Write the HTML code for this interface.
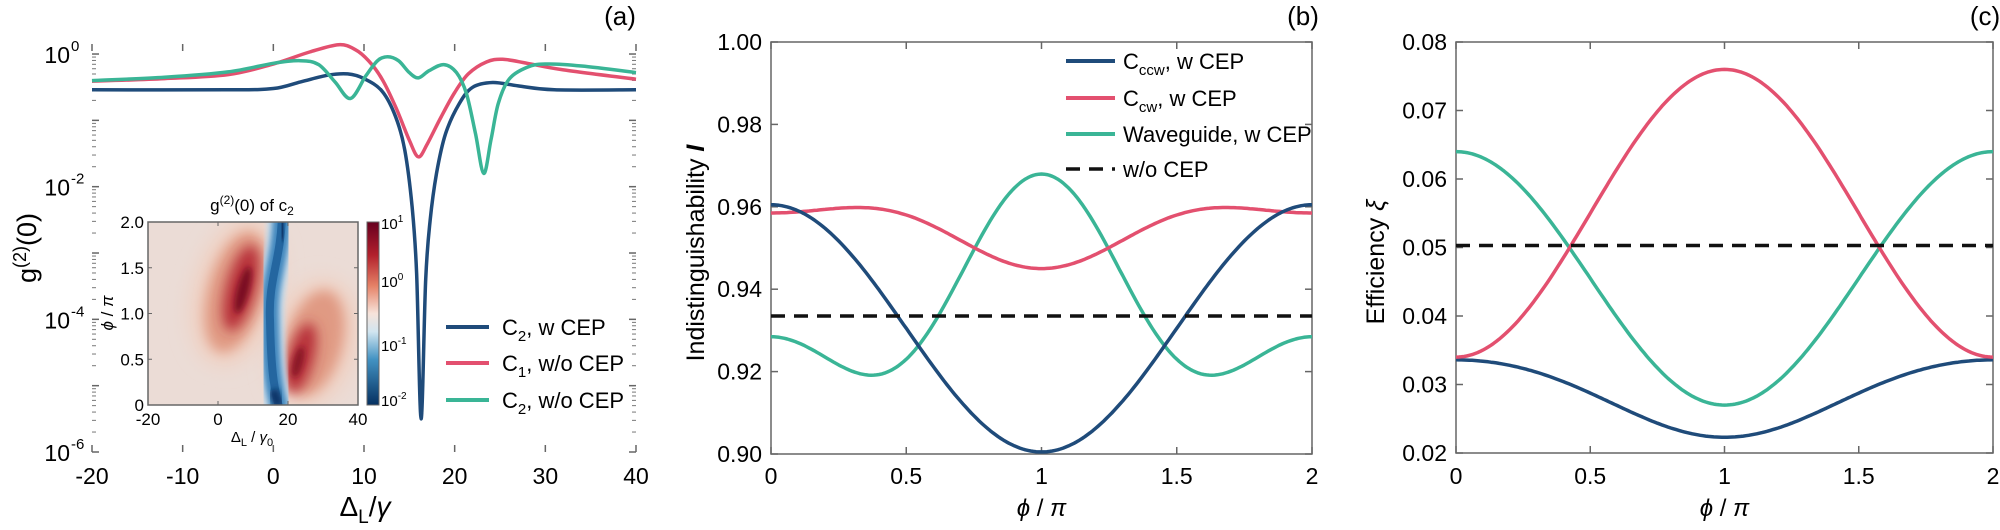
<!DOCTYPE html>
<html><head><meta charset="utf-8"><style>
html,body{margin:0;padding:0;background:#fff;}
svg{display:block;font-family:"Liberation Sans",Arial,sans-serif;}
</style></head><body>
<svg id="s" width="2000" height="530" viewBox="0 0 2000 530" xmlns="http://www.w3.org/2000/svg">
<defs>
<filter id="b6" x="-50%" y="-50%" width="200%" height="200%"><feGaussianBlur stdDeviation="6"/></filter>
<filter id="b3" x="-50%" y="-50%" width="200%" height="200%"><feGaussianBlur stdDeviation="3"/></filter>
<filter id="b10" x="-50%" y="-50%" width="200%" height="200%"><feGaussianBlur stdDeviation="10"/></filter>
<linearGradient id="cb" x1="0" y1="0" x2="0" y2="1">
<stop offset="0" stop-color="#67001f"/><stop offset="0.18" stop-color="#b2202c"/><stop offset="0.35" stop-color="#e58267"/>
<stop offset="0.5" stop-color="#f7e3da"/><stop offset="0.6" stop-color="#d1e5f0"/><stop offset="0.75" stop-color="#4393c3"/>
<stop offset="1" stop-color="#053061"/></linearGradient>
<clipPath id="ic"><rect x="148" y="222" width="210" height="183"/></clipPath>
</defs>
<g id="g"></g>
</svg>
<script>
var G=document.getElementById('g');var NS='http://www.w3.org/2000/svg';
function el(t,a,txt){var e=document.createElementNS(NS,t);for(var k in a)e.setAttribute(k,a[k]);if(txt!==undefined)e.textContent=txt;G.appendChild(e);return e;}
function html(s){G.insertAdjacentHTML('beforeend',s);}
var BL='#1f4b7a',RD='#e3506f',GR='#3ab596';
function cr(pts){var d='M'+pts[0][0].toFixed(1)+','+pts[0][1].toFixed(1);for(var i=0;i<pts.length-1;i++){var p0=pts[i-1]||pts[i],p1=pts[i],p2=pts[i+1],p3=pts[i+2]||p2;
var c1=[p1[0]+(p2[0]-p0[0])/6,p1[1]+(p2[1]-p0[1])/6],c2=[p2[0]-(p3[0]-p1[0])/6,p2[1]-(p3[1]-p1[1])/6];
d+='C'+c1[0].toFixed(1)+','+c1[1].toFixed(1)+' '+c2[0].toFixed(1)+','+c2[1].toFixed(1)+' '+p2[0].toFixed(1)+','+p2[1].toFixed(1);}return d;}
function frame(x0,x1,y0,y1){el('rect',{x:x0,y:y0,width:x1-x0,height:y1-y0,fill:'none',stroke:'#666','stroke-width':1.5});}
function tk(x0,x1,y0,y1,xs,ys){xs.forEach(function(x){el('line',{x1:x,x2:x,y1:y1,y2:y1-7,stroke:'#666','stroke-width':1.5});el('line',{x1:x,x2:x,y1:y0,y2:y0+7,stroke:'#666','stroke-width':1.5});});
ys.forEach(function(y){el('line',{x1:x0,x2:x0+7,y1:y,y2:y,stroke:'#666','stroke-width':1.5});el('line',{x1:x1,x2:x1-7,y1:y,y2:y,stroke:'#666','stroke-width':1.5});});}
// ---------- Panel a ----------
var ax0=92,ax1=636,ay0=44,ay1=452;
function AX(d){return ax0+(d+20)/60*(ax1-ax0);} function AY(l){return 452-(l+6)*66.33;}
for(var dec=-6;dec<0;dec++){for(var m=2;m<10;m++){var y=AY(dec+Math.log10(m));el('line',{x1:ax0,x2:ax0+4,y1:y,y2:y,stroke:'#777','stroke-width':1});el('line',{x1:ax1,x2:ax1-4,y1:y,y2:y,stroke:'#777','stroke-width':1});}}
for(var m=2;m<10;m++){var y=AY(Math.log10(m));if(y>ay0){el('line',{x1:ax0,x2:ax0+4,y1:y,y2:y,stroke:'#777'});el('line',{x1:ax1,x2:ax1-4,y1:y,y2:y,stroke:'#777'});}}
var xs=[],ys=[];for(var d=-20;d<=40;d+=10)xs.push(AX(d));for(var l=-6;l<=0;l++)ys.push(AY(l));
tk(ax0,ax1,ay0,ay1,xs,ys);
[-20,-10,0,10,20,30,40].forEach(function(d){el('text',{x:AX(d),y:484,'font-size':23,'text-anchor':'middle'},String(d));});
[0,-2,-4,-6].forEach(function(l){html('<text x="70" y="'+(AY(l)+9)+'" font-size="23" text-anchor="end">10</text><text x="71" y="'+(AY(l)-3)+'" font-size="15">'+l+'</text>');});
html('<text x="620" y="25" font-size="26" text-anchor="middle">(a)</text>');
html('<text x="365" y="516" font-size="28" text-anchor="middle">Δ<tspan font-size="19" dy="7">L</tspan><tspan dy="-7">/</tspan><tspan font-style="italic">γ</tspan></text>');
html('<text transform="translate(36,248) rotate(-90)" font-size="27" text-anchor="middle">g<tspan font-size="18" dy="-10">(2)</tspan><tspan dy="10">(0)</tspan></text>');
function pa(pts,c){el('path',{d:cr(pts.map(function(p){return [AX(p[0]),AY(p[1])];})),fill:'none',stroke:c,'stroke-width':3.5,'stroke-linejoin':'round'});}
var blue=[[-20,-0.54],[-5,-0.54],[0,-0.52],[3,-0.42],[6,-0.32],[8.2,-0.30],[10,-0.37],[12,-0.56],[13.5,-0.95],[14.5,-1.45],[15.3,-2.3],[15.8,-3.3],[16.3,-5.5],[16.8,-3.4],[17.3,-2.5],[18,-1.8],[19,-1.2],[20.5,-0.75],[22,-0.5],[24.2,-0.43],[27,-0.48],[31,-0.54],[40,-0.54]];
var red=[[-20,-0.41],[-12,-0.37],[-5,-0.31],[0,-0.15],[4,0.03],[7.2,0.14],[9,0.07],[10.5,-0.1],[12,-0.38],[13.5,-0.8],[15,-1.3],[16,-1.55],[17,-1.35],[18.5,-0.95],[20,-0.58],[21.5,-0.3],[23.5,-0.12],[25.3,-0.08],[28,-0.14],[32,-0.24],[40,-0.38]];
var grn=[[-20,-0.40],[-12,-0.35],[-5,-0.27],[0,-0.14],[3,-0.10],[5,-0.16],[6.8,-0.42],[8.5,-0.67],[10.2,-0.33],[11.5,-0.1],[12.6,-0.04],[13.8,-0.1],[15,-0.28],[16,-0.36],[17.2,-0.25],[18.8,-0.16],[20.2,-0.28],[21.3,-0.6],[22.3,-1.2],[23.2,-1.8],[24,-1.3],[24.8,-0.75],[26,-0.38],[28,-0.2],[30,-0.15],[34,-0.18],[40,-0.28]];
pa(blue,BL);pa(red,RD);pa(grn,GR);
[[BL,327,'2',', w CEP'],[RD,363,'1',', w/o CEP'],[GR,400,'2',', w/o CEP']].forEach(function(r){el('line',{x1:446,x2:489,y1:r[1],y2:r[1],stroke:r[0],'stroke-width':4});
html('<text x="502" y="'+(r[1]+8)+'" font-size="22">C<tspan font-size="15" dy="6">'+r[2]+'</tspan><tspan dy="-6">'+r[3]+'</tspan></text>');});
// inset
html('<g clip-path="url(#ic)"><rect x="148" y="222" width="210" height="183" fill="#ebdcd6"/>'+
'<ellipse cx="236" cy="292" rx="42" ry="75" fill="#f0cfc0" filter="url(#b10)" transform="rotate(15 236 292)"/>'+
'<ellipse cx="314" cy="343" rx="42" ry="65" fill="#f0cfc0" filter="url(#b10)" transform="rotate(15 314 343)"/>'+
'<ellipse cx="236" cy="292" rx="28" ry="62" fill="#e09a83" filter="url(#b6)" transform="rotate(15 236 292)"/>'+
'<ellipse cx="314" cy="343" rx="28" ry="54" fill="#e09a83" filter="url(#b6)" transform="rotate(15 314 343)"/>'+
'<ellipse cx="241" cy="288" rx="15" ry="44" fill="#b8323a" filter="url(#b6)" transform="rotate(15 241 288)"/>'+
'<ellipse cx="301" cy="358" rx="13" ry="36" fill="#b8323a" filter="url(#b6)" transform="rotate(15 301 358)"/>'+
'<ellipse cx="243" cy="290" rx="6" ry="24" fill="#7a0b22" filter="url(#b3)" transform="rotate(15 243 290)"/>'+
'<ellipse cx="298" cy="362" rx="5" ry="16" fill="#8a1426" filter="url(#b3)" transform="rotate(15 298 362)"/>'+
'<path d="M282,215 C281,260 268,280 270,320 C271,370 274,390 280,410" fill="none" stroke="#c6dcec" stroke-width="28" filter="url(#b3)"/>'+
'<path d="M282,215 C281,260 268,280 270,320 C271,370 274,390 280,410" fill="none" stroke="#3f86bd" stroke-width="18" filter="url(#b3)"/>'+
'<path d="M282,215 C281,260 268,280 270,320 C271,370 274,390 280,410" fill="none" stroke="#2466a0" stroke-width="8"/>'+
'<path d="M282,218 L283,240" stroke="#0b3468" stroke-width="9" filter="url(#b3)"/><path d="M273,390 L279,406" stroke="#0b3468" stroke-width="10" filter="url(#b3)"/>'+
'</g>');
frame(148,358,222,405);
var ixs=[148,218,288,358],iys=[];for(var i=0;i<5;i++)iys.push(405-i*45.75);
ixs.forEach(function(x){el('line',{x1:x,x2:x,y1:405,y2:401,stroke:'#666'});el('line',{x1:x,x2:x,y1:222,y2:226,stroke:'#666'});});
iys.forEach(function(y){el('line',{x1:148,x2:152,y1:y,y2:y,stroke:'#666'});el('line',{x1:358,x2:354,y1:y,y2:y,stroke:'#666'});});
['-20','0','20','40'].forEach(function(t,i){el('text',{x:ixs[i],y:425,'font-size':17,'text-anchor':'middle'},t);});
['0','0.5','1.0','1.5','2.0'].forEach(function(t,i){el('text',{x:144,y:iys[i]+6,'font-size':17,'text-anchor':'end'},t);});
html('<text x="252" y="442" font-size="15" text-anchor="middle">Δ<tspan font-size="11" dy="4">L</tspan><tspan dy="-4"> / </tspan><tspan font-style="italic">γ</tspan><tspan font-size="11" dy="4">0</tspan></text>');
html('<text transform="translate(113,313) rotate(-90)" font-size="17" text-anchor="middle"><tspan font-style="italic">ϕ</tspan> / <tspan font-style="italic">π</tspan></text>');
html('<text x="252" y="211" font-size="17" text-anchor="middle">g<tspan font-size="12" dy="-7">(2)</tspan><tspan dy="7">(0) of c</tspan><tspan font-size="12" dy="4">2</tspan></text>');
el('rect',{x:367,y:222,width:12,height:183,fill:'url(#cb)',stroke:'#666','stroke-width':1});
[[229,'1'],[287,'0'],[351,'-1'],[406,'-2']].forEach(function(r){html('<text x="381" y="'+r[0]+'" font-size="15">10<tspan font-size="10" dy="-7">'+r[1]+'</tspan></text>');});
// ---------- Panels b, c ----------
function panel(x0,x1,y0,y1,ymin,ymax,ystep,dec,series,dash){
 var X=function(p){return x0+p/2*(x1-x0);},Y=function(v){return y1-(v-ymin)/(ymax-ymin)*(y1-y0);};
 var xs=[0,0.5,1,1.5,2].map(X),ys=[];for(var v=ymin;v<=ymax+1e-9;v+=ystep)ys.push(v);
 frame(x0,x1,y0,y1);tk(x0,x1,y0,y1,xs,ys.map(Y));
 ['0','0.5','1','1.5','2'].forEach(function(t,i){el('text',{x:xs[i],y:484,'font-size':23,'text-anchor':'middle'},t);});
 ys.forEach(function(v){el('text',{x:x0-9,y:Y(v)+8,'font-size':23,'text-anchor':'end'},v.toFixed(dec));});
 series.forEach(function(s){var pts=[];for(var i=0;i<=200;i++){var p=i/100;pts.push(X(p).toFixed(1)+','+Y(s[1](p)).toFixed(1));}
  el('polyline',{points:pts.join(' '),fill:'none',stroke:s[0],'stroke-width':3.5,'stroke-linejoin':'round'});});
 el('line',{x1:x0,x2:x1,y1:Y(dash),y2:Y(dash),stroke:'#111','stroke-width':3.5,'stroke-dasharray':'14,9'});
 html('<text x="'+((x0+x1)/2)+'" y="516" font-size="24" text-anchor="middle"><tspan font-style="italic">ϕ</tspan> / <tspan font-style="italic">π</tspan></text>');
}
var C=function(p){return Math.cos(Math.PI*p);},C2=function(p){return Math.cos(2*Math.PI*p);};
panel(771,1312,42,454,0.90,1.00,0.02,2,[
 [GR,function(p){return 0.9356-0.01975*C(p)+0.0126*C2(p);}],
 [RD,function(p){return 0.95488+0.00675*C(p)-0.00313*C2(p);}],
 [BL,function(p){return 0.9305+0.03*C(p);}]],0.9335);
html('<text x="1303" y="25" font-size="26" text-anchor="middle">(b)</text>');
html('<text transform="translate(704,253) rotate(-90)" font-size="25" text-anchor="middle">Indistinguishability  <tspan font-style="italic" font-weight="bold">I</tspan></text>');
[[BL,61,'ccw',', w CEP'],[RD,98,'cw',', w CEP']].forEach(function(r){el('line',{x1:1066,x2:1115,y1:r[1],y2:r[1],stroke:r[0],'stroke-width':4});
 html('<text x="1123" y="'+(r[1]+8)+'" font-size="22">C<tspan font-size="15" dy="6">'+r[2]+'</tspan><tspan dy="-6">'+r[3]+'</tspan></text>');});
el('line',{x1:1066,x2:1115,y1:134,y2:134,stroke:GR,'stroke-width':4});el('text',{x:1123,y:142,'font-size':22},'Waveguide, w CEP');
el('line',{x1:1066,x2:1115,y1:169,y2:169,stroke:'#111','stroke-width':3.5,'stroke-dasharray':'14,9'});el('text',{x:1123,y:177,'font-size':22},'w/o CEP');
panel(1456,1993,42,453,0.02,0.08,0.01,2,[
 [BL,function(p){return 0.02835+0.00565*C(p)-0.0004*C2(p);}],
 [GR,function(p){return 0.0455+0.0185*C(p);}],
 [RD,function(p){return 0.055-0.021*C(p);}]],0.0503);
html('<text x="1985" y="25" font-size="26" text-anchor="middle">(c)</text>');
html('<text transform="translate(1384,262) rotate(-90)" font-size="25" text-anchor="middle">Efficiency  <tspan font-style="italic">ξ</tspan></text>');
</script>
</body></html>
